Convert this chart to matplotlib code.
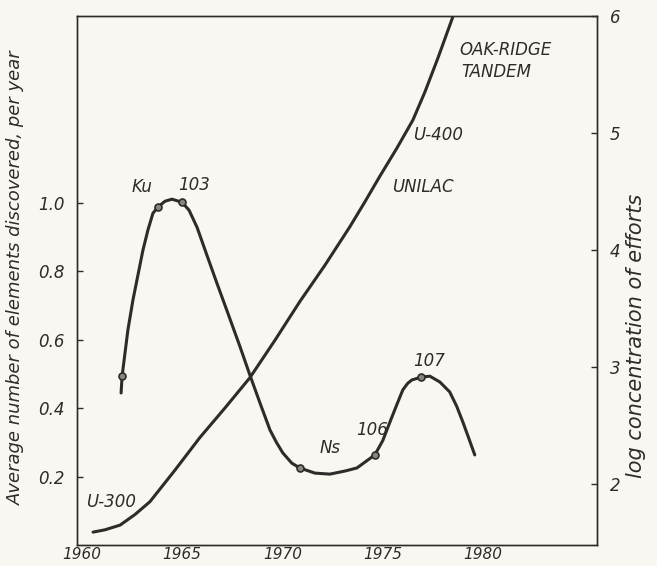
import matplotlib
matplotlib.use("Agg")
import matplotlib.pyplot as plt

# left axis: elements discovered per year (traced hand-drawn curve)
disc_years = [1961.95, 1962.0, 1962.29, 1962.54, 1962.79, 1963.04, 1963.29, 1963.54,
              1963.79, 1964.14, 1964.49, 1964.99, 1965.34, 1965.74, 1966.23, 1966.73,
              1967.28, 1967.88, 1968.38, 1968.88, 1969.38, 1969.70, 1970.02, 1970.47,
              1970.87, 1971.62, 1972.37, 1973.12, 1973.72, 1974.61, 1975.01, 1975.36,
              1975.71, 1976.01, 1976.25, 1976.46, 1976.91, 1977.36, 1977.86, 1978.35,
              1978.70, 1979.00, 1979.30, 1979.60]
disc_rate = [0.444, 0.493, 0.628, 0.715, 0.788, 0.861, 0.920, 0.969,
             0.987, 1.004, 1.010, 1.001, 0.978, 0.928, 0.847, 0.765,
             0.677, 0.580, 0.496, 0.415, 0.336, 0.300, 0.269, 0.239,
             0.225, 0.210, 0.207, 0.216, 0.225, 0.263, 0.305, 0.358,
             0.410, 0.453, 0.472, 0.482, 0.490, 0.493, 0.476, 0.447,
             0.405, 0.360, 0.312, 0.263]

# marked discoveries
mark_years = [1962.0, 1963.79, 1964.99, 1970.87, 1974.61, 1976.91]
mark_rate = [0.493, 0.987, 1.001, 0.225, 0.263, 0.490]
mark_names = ["", "Ku", "103", "Ns", "106", "107"]
name_pos = [None, (1963.0, 1.045), (1965.6, 1.05), (1972.4, 0.283), (1974.5, 0.336), (1977.3, 0.537)]

# right axis: log concentration of efforts
eff_years = [1960.55, 1961.15, 1961.9, 1962.64, 1963.39, 1964.64, 1965.89, 1967.13,
             1968.38, 1969.63, 1970.87, 1972.12, 1973.37, 1974.11, 1974.86, 1975.71,
             1976.51, 1977.11, 1977.76, 1978.5]
eff_log = [1.59, 1.61, 1.65, 1.74, 1.85, 2.12, 2.40, 2.65,
           2.91, 3.23, 3.56, 3.87, 4.20, 4.41, 4.63, 4.87,
           5.11, 5.35, 5.64, 5.99]

machines = ["U-300", "UNILAC", "U-400", "OAK-RIDGE", "TANDEM"]
machine_pos = [(1960.2, 1.85), (1975.46, 4.54), (1976.5, 4.98), (1978.85, 5.71), (1978.95, 5.52)]

x_ticks = [1960, 1965, 1970, 1975, 1980]
left_ticks = [0.2, 0.4, 0.6, 0.8, 1.0]
right_ticks = [2, 3, 4, 5, 6]

ink = "#2e2c2a"
paper = "#f8f7f2"

plt.rcParams["font.family"] = "DejaVu Sans"
plt.rcParams["font.style"] = "italic"

fig = plt.figure(figsize=(6.57, 5.66), dpi=100, facecolor=paper)
ax = fig.add_axes([77 / 657, 21 / 566, 520 / 657, 529 / 566])
ax.set_facecolor(paper)
ax2 = ax.twinx()

ax.plot(disc_years, disc_rate, color=ink, lw=2.2, solid_capstyle="round", zorder=3)
ax.plot(mark_years, mark_rate, "o", ms=5, mfc="#8a8782", mec=ink, mew=1.2, zorder=4)
for name, pos in zip(mark_names, name_pos):
    if pos:
        ax.text(pos[0], pos[1], name, fontsize=12, color=ink, ha="center", va="center")

ax2.plot(eff_years, eff_log, color=ink, lw=2.2, solid_capstyle="round")
for name, pos in zip(machines, machine_pos):
    ax2.text(pos[0], pos[1], name, fontsize=12, color=ink, ha="left", va="center")

ax.set_xlim(1959.75, 1985.7)
ax.set_ylim(0, 1.545)
ax2.set_ylim(1.48, 6.0)

ax.set_xticks(x_ticks)
ax.set_xticklabels([str(t) for t in x_ticks])
ax.set_yticks(left_ticks)
ax.set_yticklabels([f"{t:.1f}" for t in left_ticks])
ax2.set_yticks(right_ticks)
ax2.set_yticklabels([str(t) for t in right_ticks])

ax.tick_params(axis="x", length=0, pad=1.5, labelsize=11, colors=ink)
ax.tick_params(axis="y", direction="in", length=4, width=1, pad=9, labelsize=12, colors=ink)
ax2.tick_params(axis="y", direction="in", length=4, width=1, pad=9, labelsize=12, colors=ink)

for a in (ax, ax2):
    for s in a.spines.values():
        s.set_color(ink)
        s.set_linewidth(1.0)

ax.set_ylabel("Average number of elements discovered, per year", fontsize=13, color=ink)
ax.yaxis.set_label_coords(-0.1, 0.505)
ax2.set_ylabel("log concentration of efforts", fontsize=15, color=ink)
ax2.yaxis.set_label_coords(1.056, 0.395)

fig.savefig("out.png", dpi=100, facecolor=paper)
